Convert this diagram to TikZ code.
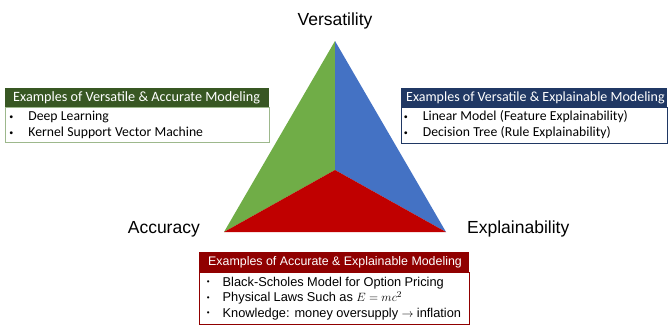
\documentclass[tikz,border=0pt]{standalone}
\usepackage{fontspec}
\setmainfont{Liberation Sans}
\newfontfamily\calibri{Carlito}
\usetikzlibrary{positioning}

\definecolor{vgreen}{HTML}{70AD47}
\definecolor{vblue}{HTML}{4472C4}
\definecolor{vred}{HTML}{C00000}
\definecolor{hgreen}{HTML}{385723}
\definecolor{hblue}{HTML}{203864}
\definecolor{hred}{HTML}{900000}
\definecolor{bgreen}{HTML}{9DB88C}

\newcommand{\hdrline}[2]{\makebox[#1][l]{#2}}
\newcommand{\dotmark}{\raisebox{0.15ex}{\fontsize{8}{8}\selectfont\textbullet}}

\tikzset{
    corner/.style={font=\fontsize{17.5}{20}\selectfont, inner sep=0pt},
    hdr/.style={anchor=north west, minimum height=19pt, inner ysep=0pt, text=white},
    body/.style={anchor=north west, inner sep=0pt, align=left, draw=#1, fill=white, line width=0.8pt}
}

\begin{document}
\begin{tikzpicture}[x=1pt, y=-1pt]
        \useasboundingbox (0,0) rectangle (668,325);

        % triangle
        \coordinate (top) at (335,41);
        \coordinate (left) at (224,232);
        \coordinate (right) at (446,232);
        \coordinate (mid) at (335,170);
        \fill[vgreen] (top) -- (mid) -- (left) -- cycle;
        \fill[vblue] (top) -- (right) -- (mid) -- cycle;
        \fill[vred] (left) -- (mid) -- (right) -- cycle;

        \node[corner, anchor=base] (vers) at (335,25) {Versatility};
        \node[corner, anchor=base east] (accu) at (200,233) {Accuracy};
        \node[corner, anchor=base west] (expl) at (467,233) {Explainability};

        % versatile & accurate
        \node[body=bgreen, minimum height=35pt, text width=264pt] (accbody) at (5,107) {
            \calibri\fontsize{13.7}{16}\selectfont
            \begin{tabular}{@{\hspace{4pt}}l@{\hspace{15pt}}l}
                \dotmark & Deep Learning \\
                \dotmark & Kernel Support Vector Machine \\
            \end{tabular}
        };
        \node[hdr, fill=hgreen, inner xsep=8pt] (acchdr) at (5,88) {\calibri\fontsize{14.2}{15}\selectfont\hdrline{248pt}{Examples of Versatile \& Accurate Modeling}};

        % versatile & explainable
        \node[body=hblue, minimum height=36pt, text width=266pt] (expbody) at (401,107) {
            \calibri\fontsize{13.7}{16}\selectfont
            \begin{tabular}{@{\hspace{2.5pt}}l@{\hspace{15pt}}l}
                \dotmark & Linear Model (Feature Explainability) \\
                \dotmark & Decision Tree (Rule Explainability) \\
            \end{tabular}
        };
        \node[hdr, fill=hblue, inner xsep=5pt] (exphdr) at (401,88) {\calibri\fontsize{14}{15}\selectfont\hdrline{256pt}{Examples of Versatile \& Explainable Modeling}};

        % accurate & explainable
        \node[body=hred, minimum height=52pt, text width=270pt] (ackbody) at (199,272) {
            \fontsize{12.8}{15.5}\selectfont
            \begin{tabular}{@{\hspace{7.5pt}}l@{\hspace{13pt}}l}
                \dotmark & Black-Scholes Model for Option Pricing \\
                \dotmark & Physical Laws Such as $E=mc^2$ \\
                \dotmark & Knowledge: money oversupply $\rightarrow$ inflation \\
            \end{tabular}
        };
        \node[hdr, fill=hred, inner xsep=9pt, minimum height=20pt] (ackhdr) at (199,252) {\fontsize{12.4}{14}\selectfont\hdrline{252pt}{Examples of Accurate \& Explainable Modeling}};

    \end{tikzpicture}
\end{document}
